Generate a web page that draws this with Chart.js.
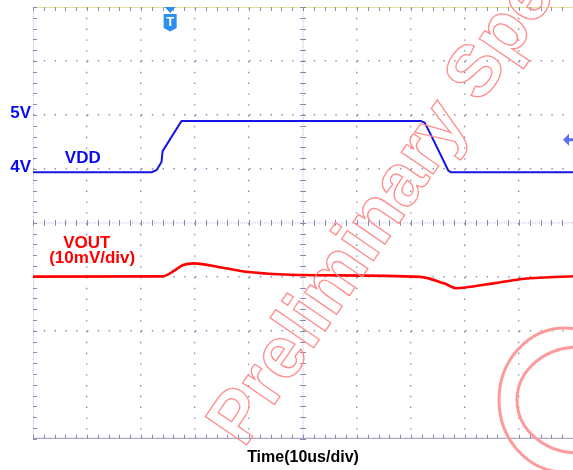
<!DOCTYPE html>
<html>
<head>
<meta charset="utf-8">
<script src="https://cdn.jsdelivr.net/npm/chart.js@4.4.1/dist/chart.umd.min.js"></script>
<style>
  html, body { margin: 0; padding: 0; background: #fff; }
</style>
</head>
<body>
<canvas id="scope" width="573" height="470"></canvas>
<script>
// VDD step, time in us (10 us/div), level in volts (1 V/div)
const vddTime  = [-50, -28.0, -27.1, -26.2, -26.0, -22.5, 21.8, 22.5, 23.3, 26.9, 27.4, 50];
const vddVolts = [3.94, 3.94, 3.98, 4.13, 4.33, 4.89, 4.89, 4.86, 4.71, 3.97, 3.94, 3.94];

// VOUT ripple, mV relative to its resting level (10 mV/div)
const voutTime = [-50, -26, -23.9, -22.2, -20.3, -14.4, -10.1, -4.6, 2.8, 21.7, 26.1, 28.5, 29.8, 35.3, 40.2, 50];
const voutMv   = [0.05, 0.1, 1.1, 2.2, 2.5, 1.6, 0.9, 0.5, 0.3, 0.0, -1.2, -2.1, -2.0, -1.2, -0.43, 0.13];

const vddTicks = { 5: '5V', 4: '4V' };
const triggerTime = -24.6;
const triggerLevel = 4.54;

const FONT = 'Liberation Sans, Arial, sans-serif';
const GRID = '#8a8ab4';

function toPoints(xs, ys) {
  return xs.map((t, i) => ({ x: t, y: ys[i] }));
}

// scope graticule: centre cross and frame with minor ticks (5 per div)
const scopeGrid = {
  id: 'scopeGrid',
  beforeDatasetsDraw(chart) {
    const { ctx, chartArea: a, scales: { x, y } } = chart;
    const xc = x.getPixelForValue(0);
    const yc = y.getPixelForValue(3);
    ctx.save();
    ctx.lineWidth = 1;

    // dense dotted centre lines
    ctx.strokeStyle = '#b4b4d4';
    ctx.setLineDash([1, 1.2]);
    ctx.beginPath();
    ctx.moveTo(xc, a.top); ctx.lineTo(xc, a.bottom);
    ctx.moveTo(a.left, yc); ctx.lineTo(a.right, yc);
    ctx.moveTo(a.left + 0.5, a.top); ctx.lineTo(a.left + 0.5, a.bottom);
    ctx.stroke();
    ctx.setLineDash([]);

    // frame lines
    ctx.strokeStyle = '#e6e29a';
    ctx.beginPath();
    ctx.moveTo(a.left, a.top + 0.5); ctx.lineTo(a.right, a.top + 0.5);
    ctx.stroke();
    ctx.strokeStyle = '#9494b8';
    ctx.beginPath();
    ctx.moveTo(a.left, a.bottom - 0.5); ctx.lineTo(a.right, a.bottom - 0.5);
    ctx.stroke();

    // minor ticks
    ctx.strokeStyle = GRID;
    ctx.beginPath();
    for (let t = -50; t <= 50.001; t += 2) {
      const px = Math.round(x.getPixelForValue(t)) + 0.5;
      ctx.moveTo(px, yc - 3); ctx.lineTo(px, yc + 3);
      ctx.moveTo(px, a.top); ctx.lineTo(px, a.top + 4);
      ctx.moveTo(px, a.bottom); ctx.lineTo(px, a.bottom - 4);
    }
    for (let v = -1; v <= 7.001; v += 0.2) {
      const py = Math.round(y.getPixelForValue(v)) + 0.5;
      ctx.moveTo(xc - 3, py); ctx.lineTo(xc + 3, py);
      ctx.moveTo(a.left, py); ctx.lineTo(a.left + 4, py);
    }
    ctx.stroke();
    ctx.restore();
  }
};

// trigger markers, trace labels and the spec stamp
const scopeMarks = {
  id: 'scopeMarks',
  afterDatasetsDraw(chart) {
    const { ctx, chartArea: a, scales: { x, y, yOut } } = chart;
    ctx.save();

    // trigger position marker
    const tx = x.getPixelForValue(triggerTime);
    ctx.fillStyle = '#2a8ff0';
    ctx.beginPath();
    ctx.moveTo(tx - 5.5, a.top); ctx.lineTo(tx + 5.5, a.top); ctx.lineTo(tx, a.top + 6);
    ctx.closePath(); ctx.fill();
    ctx.beginPath();
    ctx.moveTo(tx - 6.5, a.top + 7);
    ctx.lineTo(tx + 6.5, a.top + 7);
    ctx.lineTo(tx + 6.5, a.top + 21);
    ctx.lineTo(tx, a.top + 24.5);
    ctx.lineTo(tx - 6.5, a.top + 21);
    ctx.closePath(); ctx.fill();
    ctx.fillStyle = '#fff';
    ctx.font = 'bold 13px ' + FONT;
    ctx.textAlign = 'center';
    ctx.textBaseline = 'middle';
    ctx.fillText('T', tx, a.top + 15);

    // trigger level marker
    const ly = y.getPixelForValue(triggerLevel);
    ctx.fillStyle = '#5c6cf5';
    ctx.beginPath();
    ctx.moveTo(a.right - 10, ly); ctx.lineTo(a.right - 4, ly - 6); ctx.lineTo(a.right - 4, ly + 6);
    ctx.closePath(); ctx.fill();
    ctx.fillRect(a.right - 5, ly - 1.5, 5, 3);

    // trace labels
    ctx.textAlign = 'left';
    ctx.textBaseline = 'alphabetic';
    ctx.font = 'bold 17px ' + FONT;
    ctx.fillStyle = '#0a0af0';
    ctx.fillText('VDD', x.getPixelForValue(-44.1), y.getPixelForValue(4.11));
    ctx.fillStyle = '#ff0000';
    ctx.fillText('VOUT', x.getPixelForValue(-44.4), yOut.getPixelForValue(5.37));
    ctx.fillText('(10mV/div)', x.getPixelForValue(-47.0), yOut.getPixelForValue(2.6));
    ctx.restore();
  },
  afterDraw(chart) {
    const { ctx } = chart;
    ctx.save();
    ctx.strokeStyle = '#ff8c8c';
    ctx.lineWidth = 1.3;
    ctx.font = 'bold 73px ' + FONT;
    ctx.translate(244, 449);
    ctx.rotate(-55.5 * Math.PI / 180);
    ctx.strokeText('Preliminary Spec', 0, 0);
    ctx.restore();

    ctx.save();
    ctx.strokeStyle = '#ff9a9a';
    ctx.lineWidth = 3;
    ctx.beginPath();
    ctx.ellipse(565, 400, 66, 72, 0, 0, Math.PI * 2);
    ctx.stroke();
    ctx.beginPath();
    ctx.ellipse(578, 400, 61, 53, 0, 0, Math.PI * 2);
    ctx.stroke();
    ctx.restore();
  }
};

const hideEdges = (ctx) => {
  const v = ctx.tick && ctx.tick.value;
  return (v === 0 || v === 3 || v === 50 || v === 7 || v === -50 || v === -1) ? 'rgba(0,0,0,0)' : GRID;
};

new Chart(document.getElementById('scope').getContext('2d'), {
  type: 'line',
  data: {
    datasets: [
      {
        label: 'VDD',
        data: toPoints(vddTime, vddVolts),
        yAxisID: 'y',
        borderColor: '#1414e6',
        borderWidth: 2,
        pointRadius: 0,
        tension: 0
      },
      {
        label: 'VOUT',
        data: toPoints(voutTime, voutMv),
        yAxisID: 'yOut',
        borderColor: '#ff0000',
        borderWidth: 2.6,
        pointRadius: 0,
        cubicInterpolationMode: 'monotone'
      }
    ]
  },
  options: {
    responsive: false,
    animation: false,
    events: [],
    layout: { padding: { top: 7, left: 0, right: 0, bottom: 0 } },
    plugins: { legend: { display: false }, tooltip: { enabled: false } },
    scales: {
      x: {
        type: 'linear',
        min: -50,
        max: 50,
        ticks: { display: false, stepSize: 10 },
        grid: { color: hideEdges, lineWidth: 1.4, drawTicks: false },
        border: { display: false, dash: [1.4, 9.4] },
        title: {
          display: true,
          text: 'Time(10us/div)',
          color: '#000',
          font: { family: FONT, size: 16, weight: 'bold' },
          padding: { top: 9, bottom: 3 }
        }
      },
      y: {
        position: 'left',
        min: -1,
        max: 7,
        afterFit(scale) {
          scale.width = 33;
          scale.paddingTop = 0;
          scale.paddingBottom = 0;
        },
        ticks: {
          stepSize: 1,
          autoSkip: false,
          padding: 2,
          labelOffset: -2,
          color: '#0a0af0',
          font: { family: FONT, size: 17, weight: 'bold' },
          callback: (v) => vddTicks[v] || ''
        },
        grid: { color: hideEdges, lineWidth: 1.4, drawTicks: false },
        border: { display: false, dash: [1.4, 9.4] }
      },
      yOut: {
        display: false,
        min: -30,
        max: 50
      }
    }
  },
  plugins: [scopeGrid, scopeMarks]
});
</script>
</body>
</html>
